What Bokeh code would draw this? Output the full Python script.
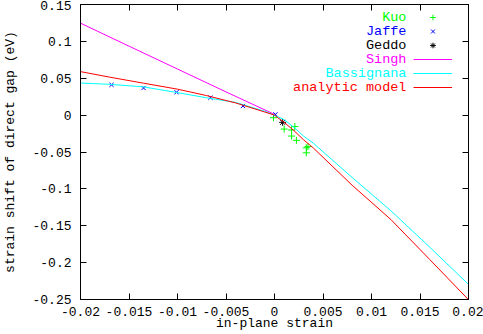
from bokeh.plotting import figure
from bokeh.models import (FixedTicker, LinearAxis, Legend, LegendItem, Label, Range1d,
                          CustomLabelingPolicy)
from bokeh.embed import file_html
from bokeh.resources import INLINE

# ---- data ----
kuo_x = [-0.0001, 0.0021, 0.0010, 0.00176, 0.00176, 0.00226, 0.00328, 0.00345, 0.00328]
kuo_y = [-0.0035, -0.0155, -0.0189, -0.0202, -0.0284, -0.0342, -0.0443, -0.0427, -0.0511]

jaffe_x = [-0.0168, -0.0135, -0.0101, -0.0066, -0.00325, 0.0001]
jaffe_y = [0.0411, 0.0368, 0.0310, 0.0236, 0.0124, 0.0010]

geddo_x = [0.00084]
geddo_y = [-0.0098]

singh_x = [-0.02, -0.015, -0.01, -0.005, 0.0]
singh_y = [0.1247, 0.0935, 0.0625, 0.0315, 0.0010]

curve_x = [-0.02, -0.017, -0.0135, -0.01, -0.007, -0.004, -0.001, 0.0, 0.001, 0.002,
           0.003, 0.004, 0.008, 0.012, 0.016, 0.02]
bassignana_y = [0.0435, 0.0418, 0.0383, 0.0305, 0.0235, 0.0172, 0.0052, 0.0, -0.0062, -0.0165,
                -0.0285, -0.0380, -0.0845, -0.1297, -0.1790, -0.2295]
analytic_y = [0.0590, 0.0515, 0.0433, 0.0352, 0.0265, 0.0165, 0.0042, 0.0, -0.0098, -0.0210,
              -0.0335, -0.0445, -0.0950, -0.1416, -0.1957, -0.2503]

x_ticks = [-0.02, -0.015, -0.01, -0.005, 0.0, 0.005, 0.01, 0.015, 0.02]
x_tick_labels = ["-0.02", "-0.015", "-0.01", "-0.005", "0", "0.005", "0.01", "0.015", "0.02"]
y_ticks = [-0.25, -0.2, -0.15, -0.1, -0.05, 0.0, 0.05, 0.1, 0.15]
y_tick_labels = ["-0.25", "-0.2", "-0.15", "-0.1", "-0.05", "0", "0.05", "0.1", "0.15"]

legend_names = ["Kuo", "Jaffe", "Geddo", "Singh", "Bassignana", "analytic model"]
legend_colors = ["#00ff00", "#0000ff", "#000000", "#ff00ff", "#00ffff", "#ff0000"]

FONT = "Liberation Mono"

p = figure(width=483, height=334, x_range=Range1d(-0.02, 0.02), y_range=Range1d(-0.25, 0.15),
           output_backend="svg", toolbar_location=None,
           min_border_left=74, min_border_right=15, min_border_top=4, min_border_bottom=35)
p.grid.visible = False
p.outline_line_color = "black"
p.outline_line_width = 1
p.background_fill_color = "white"
p.border_fill_color = "white"

def style_axis(ax, ticks, labels):
    ax.ticker = FixedTicker(ticks=ticks)
    ax.major_label_overrides = {t: l for t, l in zip(ticks, labels)}
    ax.major_tick_in = 6
    ax.major_tick_out = 0
    ax.minor_tick_in = 0
    ax.minor_tick_out = 0
    ax.axis_line_color = "black"
    ax.major_tick_line_color = "black"
    ax.major_label_text_font = FONT
    ax.major_label_text_font_size = "13px"
    ax.major_label_text_color = "black"
    ax.axis_label_text_font = FONT
    ax.axis_label_text_font_size = "13px"
    ax.axis_label_text_font_style = "normal"
    ax.axis_label_text_color = "black"

xa = p.xaxis[0]
style_axis(xa, x_ticks, x_tick_labels)
xa.axis_label = "in-plane strain"
xa.major_label_standoff = 7
xa.axis_label_standoff = -3

ya = p.yaxis[0]
style_axis(ya, y_ticks, y_tick_labels)
ya.axis_label = "strain shift of direct gap (eV)"
ya.major_label_standoff = 9
ya.axis_label_standoff = 11

# mirror ticks (no labels drawn)
hide_all = CustomLabelingPolicy(code="""
    const all = Array.from(indices)
    for (const i of all) indices.unset(i)
    return indices
""")
for loc, ticks in (("above", x_ticks), ("right", y_ticks)):
    ax = LinearAxis(ticker=FixedTicker(ticks=ticks))
    ax.major_tick_in = 6
    ax.major_tick_out = 0
    ax.minor_tick_in = 0
    ax.minor_tick_out = 0
    ax.major_label_text_font_size = "0px"
    ax.major_label_policy = hide_all
    ax.major_label_standoff = 0
    ax.axis_line_color = "black"
    ax.major_tick_line_color = "black"
    p.add_layout(ax, loc)

# series (gnuplot order: points first, then lines)
r_kuo = p.scatter(kuo_x, kuo_y, marker="cross", size=7, line_color=legend_colors[0], line_width=1)
r_jaffe = p.scatter(jaffe_x, jaffe_y, marker="x", size=6, line_color=legend_colors[1], line_width=1)
r_geddo = p.scatter(geddo_x, geddo_y, marker="asterisk", size=7, line_color=legend_colors[2], line_width=1)
r_singh = p.line(singh_x, singh_y, line_color=legend_colors[3], line_width=1)
r_bass = p.line(curve_x, bassignana_y, line_color=legend_colors[4], line_width=1)
r_ana = p.line(curve_x, analytic_y, line_color=legend_colors[5], line_width=1)

renderers = [r_kuo, r_jaffe, r_geddo, r_singh, r_bass, r_ana]
legend = Legend(items=[LegendItem(label=" ", renderers=[r]) for r in renderers],
                location="top_right", margin=6, padding=0, spacing=0,
                glyph_width=39, glyph_height=14, label_width=10, label_height=0,
                label_standoff=0, label_text_font_size="1px",
                border_line_color=None, background_fill_alpha=0)
p.add_layout(legend, "center")

# legend texts (right-aligned, coloured, gnuplot style)
y_per_px = 0.4 / 295.0
x_per_px = 0.04 / 394.0
top_y = 0.15 - (16.7 - 4) * y_per_px
text_x = 0.02 - (468 - 405) * x_per_px
for i, (name, col) in enumerate(zip(legend_names, legend_colors)):
    p.add_layout(Label(x=text_x, y=top_y - i * 14 * y_per_px, text=name, text_align="right",
                       text_baseline="middle", text_font=FONT, text_font_size="13.5px",
                       text_color=col))

open("out.html", "w").write(file_html(p, INLINE))
